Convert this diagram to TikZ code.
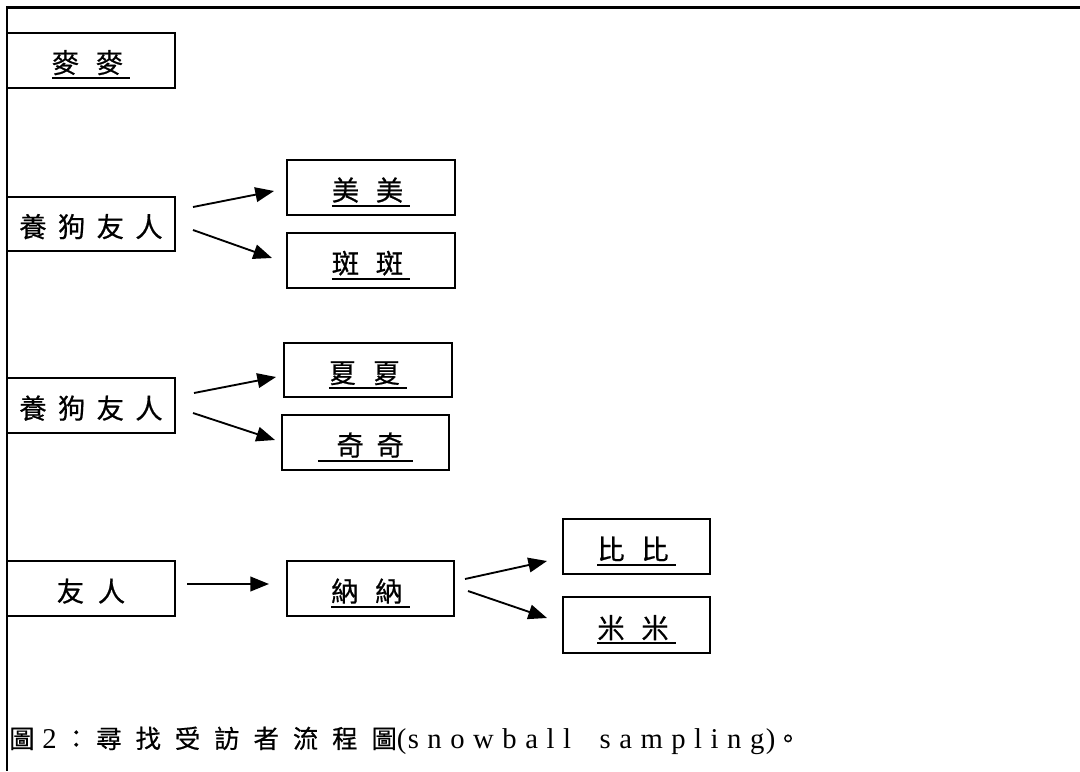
\documentclass[tikz,border=0pt]{standalone}
\usepackage{fontspec}
\setmainfont{Noto Sans CJK TC}[FakeBold=0.6]
\newfontfamily\latinserif{Liberation Serif}
\usetikzlibrary{positioning, arrows.meta, calc}

\newsavebox\ulbox
\newcommand{\uline}[1]{\sbox\ulbox{#1}\rlap{\rule[-4.5pt]{\wd\ulbox}{1.5pt}}\usebox\ulbox}
\newcommand{\pairname}[1]{\uline{#1\hspace{12.5pt}#1\hspace{5.25pt}}}
\newcommand{\dogfriends}{養\hspace{8.5pt}狗\hspace{8.5pt}友\hspace{8.5pt}人\hspace{7.5pt}}
% caption spacing
\newcommand{\capcell}[1]{\makebox[29.5pt][l]{#1}}
\newlength\lsamount \setlength\lsamount{6.4pt}
\def\lspace#1{\ifx#1\relax\else#1\kern\lsamount\expandafter\lspace\fi}

\begin{document}
\begin{tikzpicture}[x=0.75pt, y=-0.75pt, >=Triangle]
    % Styles
    \tikzstyle{frame}=[line width=2pt, draw=black]
    \tikzstyle{person}=[draw=black, line width=1.5pt, inner sep=0pt, minimum width=126pt, minimum height=41.25pt,
        text height=21.5pt, text depth=2pt, font=\fontsize{20.5}{24}\selectfont]
    \tikzstyle{arrow}=[-{Triangle[length=14pt, width=11pt]}, line width=1.4pt, draw=black]

    \useasboundingbox (0,0) rectangle (1080,771);
    \draw[frame] (1080,7.5) -| (7,771);

    % Boxes
    \node[person] (mai) at (91,60) {\pairname{麥}};

    \node[person, minimum height=40.5pt] (dogfriendA) at (91,224) {\dogfriends};
    \node[person] (mei) at (371,187.5) {\pairname{美}};
    \node[person] (ban) at (371,260.5) {\pairname{斑}};

    \node[person] (dogfriendB) at (91,405.5) {\dogfriends};
    \node[person, minimum height=40.5pt] (xia) at (368,370) {\pairname{夏}};
    \node[person, minimum width=125.25pt] (qi) at (365.5,442.5) {\uline{\hspace{13.9pt}奇\hspace{9.5pt}奇\hspace{6.9pt}}\hspace{15pt}};

    \node[person] (friend) at (91,588.5) {友\hspace{10.25pt}人\hspace{6.75pt}};
    \node[person, minimum width=125.25pt] (na) at (370.5,588.5) {\pairname{納}};
    \node[person, minimum width=110.25pt] (bi) at (636.5,546.5) {\pairname{比}};
    \node[person, minimum width=110.25pt, minimum height=42pt] (mi) at (636.5,625) {\pairname{米}};

    % Arrows
    \draw[arrow] ($(dogfriendA.east)+(17,-17)$) -- ($(mei.west)+(-12,3.5)$);
    \draw[arrow] ($(dogfriendA.east)+(17,6)$) -- ($(ban.west)+(-14,-2.5)$);
    \draw[arrow] ($(dogfriendB.east)+(18,-12.5)$) -- ($(xia.west)+(-7,7)$);
    \draw[arrow] ($(dogfriendB.east)+(17,7.5)$) -- ($(qi.west)+(-6,-2.5)$);
    \draw[arrow] ($(friend.east)+(11,-4.5)$) -- ($(na.west)+(-17,-4.5)$);
    \draw[arrow] ($(na.east)+(10,-9.5)$) -- ($(bi.west)+(-15,14.5)$);
    \draw[arrow] ($(na.east)+(13,2.5)$) -- ($(mi.west)+(-15,-7)$);

    % Caption
    \node[anchor=base west, inner sep=0pt, font=\fontsize{19}{22}\selectfont] (caption) at (9,748)
        {\makebox[24.75pt][l]{圖}\makebox[16pt][l]{\fontsize{21.5}{24}\latinserif 2}\makebox[24.5pt][l]{：}%
         \capcell{尋}\capcell{找}\capcell{受}\capcell{訪}\capcell{者}\capcell{流}\capcell{程}圖%
         {\fontsize{21.5}{24}\latinserif (\kern1pt\lspace snowball\relax\hspace{15pt}\lspace samplin\relax g\kern1pt)}。};
\end{tikzpicture}
\end{document}
